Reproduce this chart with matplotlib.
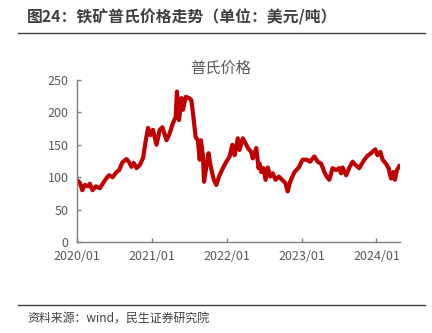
import matplotlib
matplotlib.use("Agg")
import matplotlib.pyplot as plt
import pandas as pd

plt.rcParams['font.family'] = ['Noto Sans CJK SC', 'DejaVu Sans']

dates = [
    "2020-01-01", "2020-01-16", "2020-01-27", "2020-02-09", "2020-02-25", "2020-03-04",
    "2020-03-17", "2020-04-02", "2020-04-22", "2020-05-08", "2020-05-25", "2020-06-06",
    "2020-06-23", "2020-07-12", "2020-07-25", "2020-08-10", "2020-08-30", "2020-09-12",
    "2020-09-23", "2020-10-04", "2020-10-18", "2020-11-03", "2020-11-19", "2020-12-02",
    "2020-12-13", "2020-12-25", "2021-01-06", "2021-01-23", "2021-02-08", "2021-02-21",
    "2021-03-13", "2021-03-29", "2021-04-14", "2021-04-27", "2021-05-03", "2021-05-13",
    "2021-05-25", "2021-06-01", "2021-06-15", "2021-07-01", "2021-07-12", "2021-07-20",
    "2021-08-02", "2021-08-13", "2021-08-22", "2021-08-28", "2021-09-07", "2021-09-12",
    "2021-09-23", "2021-10-04", "2021-10-13", "2021-10-22", "2021-10-30", "2021-11-11",
    "2021-11-24", "2021-12-13", "2021-12-30", "2022-01-15", "2022-01-28", "2022-02-08",
    "2022-02-24", "2022-03-04", "2022-03-20", "2022-04-03", "2022-04-14", "2022-04-30",
    "2022-05-08", "2022-05-25", "2022-06-05", "2022-06-10", "2022-06-18", "2022-06-29",
    "2022-07-09", "2022-07-20", "2022-08-01", "2022-08-13", "2022-08-27", "2022-09-12",
    "2022-09-28", "2022-10-14", "2022-10-25", "2022-11-06", "2022-11-27", "2022-12-18",
    "2023-01-06", "2023-01-26", "2023-02-11", "2023-03-04", "2023-03-20", "2023-04-06",
    "2023-04-22", "2023-05-03", "2023-05-16", "2023-06-01", "2023-06-18", "2023-07-04",
    "2023-07-12", "2023-07-20", "2023-08-06", "2023-08-22", "2023-09-07", "2023-09-20",
    "2023-10-09", "2023-11-03", "2023-11-19", "2023-12-05", "2023-12-26", "2024-01-06",
    "2024-01-20", "2024-01-31", "2024-02-16", "2024-02-29", "2024-03-12", "2024-03-23",
    "2024-03-31", "2024-04-10", "2024-04-21",
]
prices = [
    96, 91, 80, 88, 86, 90,
    80, 86, 83, 91, 99, 103,
    100, 108, 111, 123, 128, 123,
    116, 122, 114, 119, 130, 157,
    176, 165, 173, 150, 173, 177,
    157, 168, 184, 193, 232, 188,
    222, 204, 224, 222, 219, 199,
    162, 157, 127, 157, 132, 93,
    116, 137, 119, 106, 96, 88,
    101, 114, 124, 132, 150, 134,
    160, 142, 160, 152, 145, 139,
    129, 145, 114, 121, 108, 114,
    96, 115, 101, 106, 96, 101,
    96, 91, 78, 93, 108, 115,
    127, 127, 124, 132, 124, 121,
    108, 101, 96, 114, 111, 114,
    106, 115, 103, 115, 124, 119,
    114, 127, 133, 137, 143, 134,
    139, 127, 121, 114, 98, 108,
    96, 111, 117,
]
series_name = "普氏价格"
x_ticks = ["2020-01-01", "2021-01-01", "2022-01-01", "2023-01-01", "2024-01-01"]
x_tick_labels = ["2020/01", "2021/01", "2022/01", "2023/01", "2024/01"]
y_ticks = [0, 50, 100, 150, 200, 250]

fig = plt.figure(figsize=(4.32, 3.33), dpi=100)
ax = fig.add_axes([0.178, 0.273, 0.748, 0.487])

d = pd.to_datetime(dates)
ax.plot(d, prices, color="#C00000", linewidth=3.0, solid_joinstyle="round")

ax.set_ylim(0, 250)
ax.set_yticks(y_ticks)
ax.set_xlim(pd.Timestamp("2020-01-01"), pd.Timestamp("2024-04-25"))
ax.set_xticks(pd.to_datetime(x_ticks))
ax.set_xticklabels(x_tick_labels)

for s in ["top", "right"]:
    ax.spines[s].set_visible(False)
for s in ["left", "bottom"]:
    ax.spines[s].set_color("#808080")
    ax.spines[s].set_linewidth(1.0)
ax.tick_params(axis="both", direction="in", length=3, width=1, color="#808080",
               labelcolor="#595959", labelsize=9)
ax.tick_params(axis="x", pad=6)
ax.tick_params(axis="y", pad=6)

fig.text(221 / 432, 1 - 68 / 333, series_name, ha="center", va="center",
         fontsize=11, color="#595959")

fig.text(27 / 432, 1 - 17 / 333, "图24：铁矿普氏价格走势（单位：美元/吨）", ha="left",
         va="center", fontsize=11.4, fontweight="bold", color="#404040")
fig.add_artist(plt.Line2D([18 / 432, 425 / 432], [1 - 33 / 333, 1 - 33 / 333],
                          color="#404040", linewidth=1.0))
fig.add_artist(plt.Line2D([18 / 432, 425 / 432], [1 - 305 / 333, 1 - 305 / 333],
                          color="#404040", linewidth=1.0))
fig.text(27 / 432, 1 - 318 / 333, "资料来源：wind，民生证券研究院", ha="left",
         va="center", fontsize=8.6, color="#404040")

fig.savefig("out.png", dpi=100)
